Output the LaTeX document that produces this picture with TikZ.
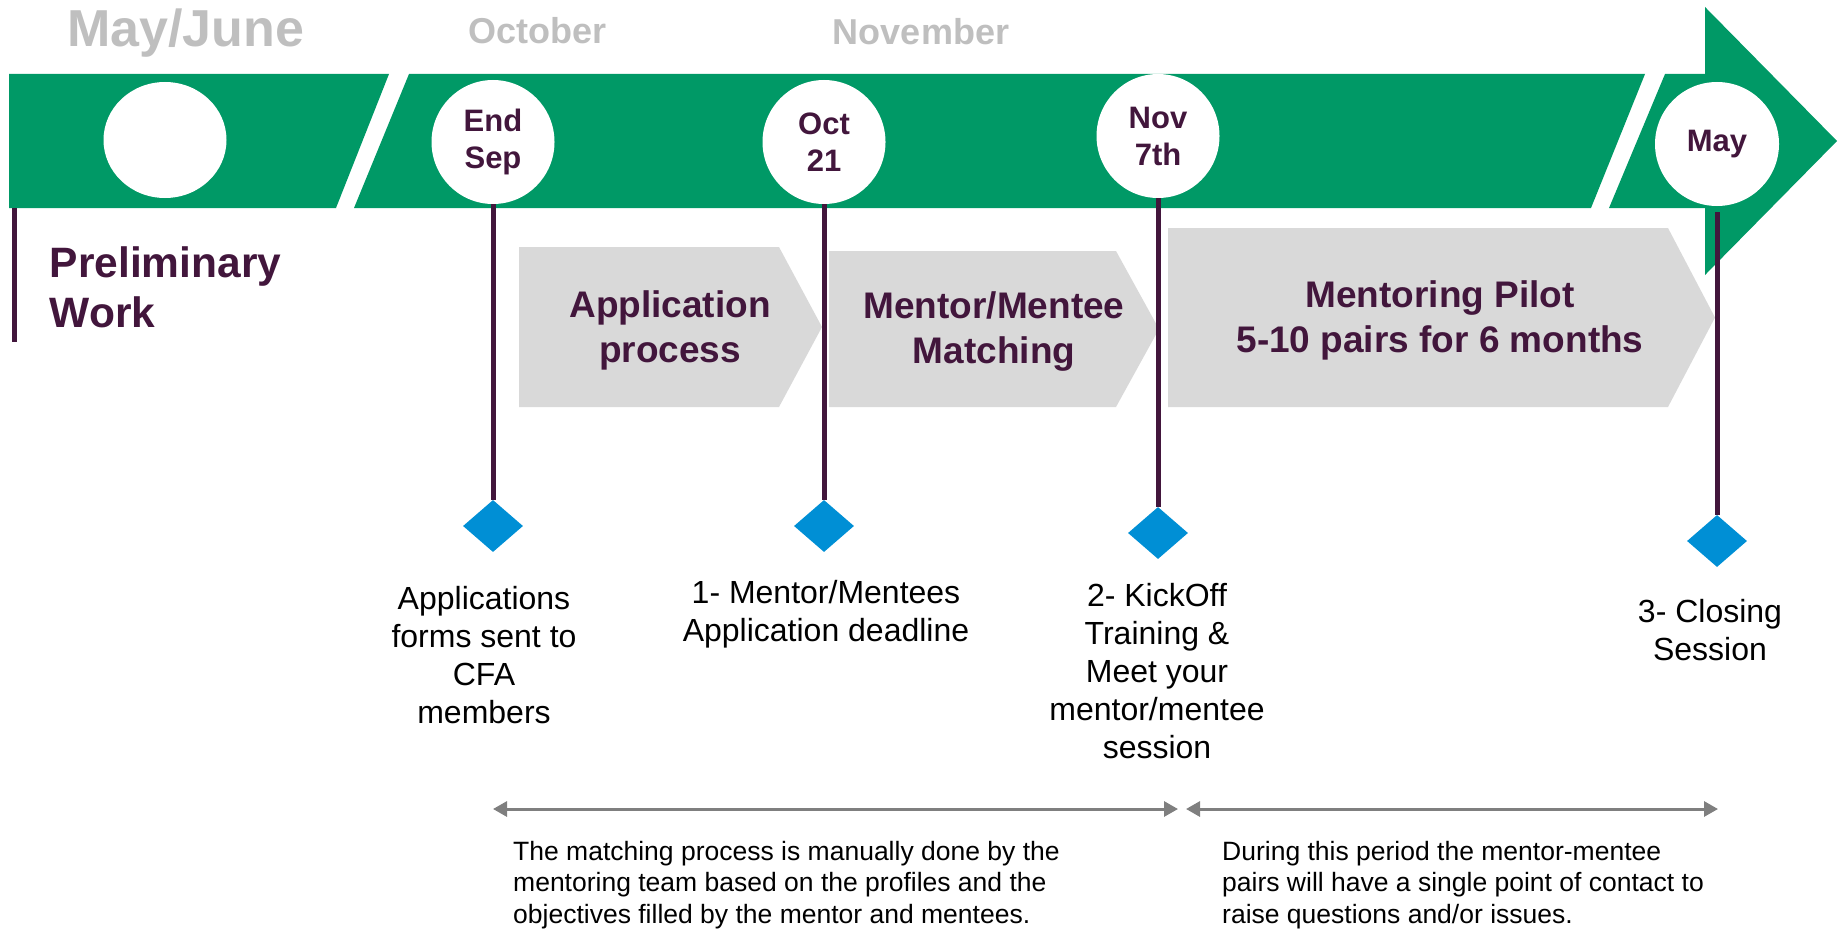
\documentclass[tikz,border=0pt]{standalone}
\usepackage{fontspec}
\setmainfont{Liberation Sans}
\usepackage{xcolor}
\usetikzlibrary{arrows.meta,shapes.geometric,positioning}

\definecolor{bandgreen}{RGB}{0,153,102}
\definecolor{plum}{RGB}{66,22,60}
\definecolor{phasegray}{RGB}{217,217,217}
\definecolor{monthgray}{RGB}{191,191,191}
\definecolor{pinblue}{RGB}{0,143,213}
\definecolor{spangray}{RGB}{127,127,127}

\begin{document}
\begin{tikzpicture}[x=1pt,y=-1pt,
  month/.style={anchor=base,text=monthgray,font=\bfseries\fontsize{36}{43}\selectfont},
  datecirc/.style={ellipse,fill=white,minimum width=123pt,minimum height=124pt,inner sep=0pt,align=center,text=plum,font=\bfseries\fontsize{31}{37}\selectfont},
  phase/.style={align=center,text=plum,inner sep=0pt,font=\bfseries\fontsize{37}{45}\selectfont},
  milestone/.style={diamond,fill=pinblue,minimum width=60pt,minimum height=52pt,inner sep=0pt},
  event/.style={align=center,inner sep=0pt,font=\fontsize{32}{38}\selectfont},
  note/.style={anchor=west,align=left,inner sep=0pt,font=\fontsize{26.5}{31.5}\selectfont},
  stem/.style={draw=plum,line width=5pt},
  span/.style={draw=spangray,line width=3pt,{Triangle[length=14pt,width=15pt]}-{Triangle[length=14pt,width=15pt]}}]
\useasboundingbox (0,0) rectangle (1838,931);

% timeline band
\fill[bandgreen] (9,74) -- (389,74) -- (336,208) -- (9,208) -- cycle;
\fill[bandgreen] (409,74) -- (1645,74) -- (1591,208) -- (354,208) -- cycle;
\fill[bandgreen] (1665,74) -- (1705,74) -- (1705,7) -- (1837,141) -- (1705,275) -- (1705,208) -- (1609,208) -- cycle;

\node[month,font=\bfseries\fontsize{52}{60}\selectfont] (mayjune) at (185.5,47) {May/June};
\node[month] (october) at (537.5,44) {October};
\node[month] (november) at (921,45) {November};

\node[datecirc,minimum height=116pt] (c0) at (165,140) {};
\node[datecirc] (c1) at (493,142) {End\\Sep};
\node[datecirc] (c2) at (824,142) {Oct\\21};
\node[datecirc] (c3) at (1158,136) {Nov\\7th};
\node[datecirc,minimum width=124pt] (c4) at (1717,144) {May};

% phases
\fill[phasegray] (519,247) -- (779,247) -- (822,327) -- (779,407) -- (519,407) -- cycle;
\node[phase] (apply) at (670,330) {Application\\process};
\fill[phasegray] (829,251) -- (1116,251) -- (1159,329) -- (1116,407) -- (829,407) -- cycle;
\node[phase] (match) at (994,332) {Mentor/Mentee\\Matching};
\fill[phasegray] (1168,228) -- (1668,228) -- (1715,317.5) -- (1668,407) -- (1168,407) -- cycle;
\node[phase] (pilot) at (1440,320) {Mentoring Pilot\\5-10 pairs for 6 months};

\node[phase,align=left,anchor=west,font=\bfseries\fontsize{42.5}{50}\selectfont] (prelim) at (49.5,287.7) {Preliminary\\Work};
\coordinate (pretop) at (14,208);
\coordinate (prebot) at (14,342);
\draw[stem] (pretop) -- (prebot);

% milestones
\node[milestone] (d1) at (493,526) {};
\node[milestone] (d2) at (824,526) {};
\node[milestone] (d3) at (1158,533) {};
\node[milestone] (d4) at (1717,541) {};
\draw[stem] (c1.south) -- (d1.north);
\draw[stem] (c2.south) -- (d2.north);
\draw[stem] (c3.south) -- (d3.north);
\draw[stem,shorten <=6pt] (c4.south) -- (d4.north);

\node[event] (e1) at (484,655) {Applications\\forms sent to\\CFA\\members};
\node[event] (e2) at (826,614.5) {1- Mentor/Mentees\\Application deadline};
\node[event] (e3) at (1157,671) {2- KickOff\\Training \&\\Meet your\\mentor/mentee\\session};
\node[event] (e4) at (1710,630) {3- Closing\\Session};

% periods
\coordinate (s1a) at (493,809);
\coordinate (s1b) at (1178,809);
\coordinate (s2a) at (1186,809);
\coordinate (s2b) at (1718,809);
\draw[span] (s1a) -- (s1b);
\draw[span] (s2a) -- (s2b);

\node[note] (n1) at (513,884.7) {The matching process is manually done by the\\mentoring team based on the profiles and the\\objectives filled by the mentor and mentees.};
\node[note] (n2) at (1222,884.7) {During this period the mentor-mentee\\pairs will have a single point of contact to\\raise questions and/or issues.};
\end{tikzpicture}
\end{document}
